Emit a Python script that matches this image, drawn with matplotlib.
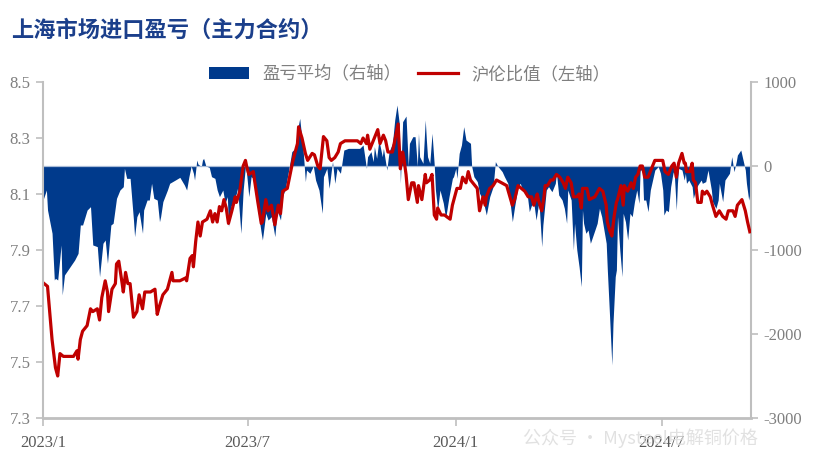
import numpy as np
import pandas as pd
import matplotlib.pyplot as plt
from matplotlib.patches import Patch
from matplotlib.lines import Line2D

# 沪伦比值（左轴）
ratio_dates = [
    '2023-01-02', '2023-01-05', '2023-01-09', '2023-01-12', '2023-01-14', '2023-01-16', '2023-01-19', '2023-01-28', '2023-01-31',
    '2023-02-01', '2023-02-03', '2023-02-05', '2023-02-09', '2023-02-12', '2023-02-14', '2023-02-18', '2023-02-20', '2023-02-22', '2023-02-25', '2023-02-27', '2023-02-28',
    '2023-03-03', '2023-03-06', '2023-03-07', '2023-03-09', '2023-03-12', '2023-03-13', '2023-03-15', '2023-03-17', '2023-03-19', '2023-03-22', '2023-03-25', '2023-03-27', '2023-03-30',
    '2023-04-01', '2023-04-06', '2023-04-10', '2023-04-12', '2023-04-14', '2023-04-17', '2023-04-21', '2023-04-25', '2023-04-26',
    '2023-05-02', '2023-05-07', '2023-05-08', '2023-05-11', '2023-05-13', '2023-05-14', '2023-05-16', '2023-05-18', '2023-05-20', '2023-05-22', '2023-05-26', '2023-05-29', '2023-05-31',
    '2023-06-02', '2023-06-04', '2023-06-06', '2023-06-08', '2023-06-10', '2023-06-12', '2023-06-14', '2023-06-17', '2023-06-20', '2023-06-21', '2023-06-24', '2023-06-27', '2023-06-29', '2023-06-30',
    '2023-07-02', '2023-07-06', '2023-07-07', '2023-07-10', '2023-07-13', '2023-07-14', '2023-07-17', '2023-07-19', '2023-07-22', '2023-07-25', '2023-07-28', '2023-07-30',
    '2023-08-01', '2023-08-05', '2023-08-07', '2023-08-10', '2023-08-14', '2023-08-15', '2023-08-18', '2023-08-21', '2023-08-23', '2023-08-27', '2023-08-29',
    '2023-09-01', '2023-09-03', '2023-09-06', '2023-09-09', '2023-09-11', '2023-09-13', '2023-09-16', '2023-09-19', '2023-09-21', '2023-09-25',
    '2023-10-06', '2023-10-09', '2023-10-11', '2023-10-14', '2023-10-15', '2023-10-17', '2023-10-20', '2023-10-22', '2023-10-24', '2023-10-26', '2023-10-29', '2023-10-31',
    '2023-11-02', '2023-11-06', '2023-11-10', '2023-11-11', '2023-11-13', '2023-11-15', '2023-11-16', '2023-11-18', '2023-11-20', '2023-11-23', '2023-11-25', '2023-11-28', '2023-11-29',
    '2023-12-02', '2023-12-05', '2023-12-06', '2023-12-09', '2023-12-11', '2023-12-13', '2023-12-15', '2023-12-16', '2023-12-19', '2023-12-22', '2023-12-27', '2023-12-29',
    '2024-01-02', '2024-01-05', '2024-01-07', '2024-01-10', '2024-01-12', '2024-01-14', '2024-01-16', '2024-01-20', '2024-01-22', '2024-01-25', '2024-01-27', '2024-01-28', '2024-01-31',
    '2024-02-03', '2024-02-06', '2024-02-15', '2024-02-20', '2024-02-22', '2024-02-25', '2024-02-28',
    '2024-03-02', '2024-03-05', '2024-03-08', '2024-03-10', '2024-03-13', '2024-03-14', '2024-03-17', '2024-03-19', '2024-03-20', '2024-03-22', '2024-03-25', '2024-03-27', '2024-03-30',
    '2024-04-02', '2024-04-05', '2024-04-07', '2024-04-09', '2024-04-12', '2024-04-14', '2024-04-17', '2024-04-19', '2024-04-21', '2024-04-22', '2024-04-26', '2024-04-28',
    '2024-05-03', '2024-05-07', '2024-05-10', '2024-05-13', '2024-05-14', '2024-05-16', '2024-05-18', '2024-05-20', '2024-05-22', '2024-05-23', '2024-05-26', '2024-05-28', '2024-05-29',
    '2024-06-01', '2024-06-04', '2024-06-06', '2024-06-08', '2024-06-10', '2024-06-12', '2024-06-14', '2024-06-16', '2024-06-19', '2024-06-22', '2024-06-25', '2024-06-29',
    '2024-07-02', '2024-07-04', '2024-07-07', '2024-07-10', '2024-07-12', '2024-07-14', '2024-07-16', '2024-07-19', '2024-07-21', '2024-07-22', '2024-07-23', '2024-07-26', '2024-07-28', '2024-07-29', '2024-07-31',
    '2024-08-02', '2024-08-05', '2024-08-06', '2024-08-08', '2024-08-10', '2024-08-13', '2024-08-15', '2024-08-18', '2024-08-21', '2024-08-24', '2024-08-27', '2024-08-29',
    '2024-09-02', '2024-09-04', '2024-09-06', '2024-09-10', '2024-09-13', '2024-09-15', '2024-09-17',
]
ratio_vals = [
    7.78, 7.77, 7.58, 7.48, 7.45, 7.53, 7.52, 7.52, 7.54,
    7.51, 7.58, 7.61, 7.63, 7.69, 7.68, 7.69, 7.65, 7.73, 7.79, 7.75, 7.68,
    7.76, 7.78, 7.85, 7.86, 7.78, 7.75, 7.82, 7.78, 7.78, 7.66, 7.68, 7.74, 7.69,
    7.75, 7.75, 7.76, 7.67, 7.70, 7.74, 7.76, 7.82, 7.79,
    7.79, 7.80, 7.79, 7.87, 7.88, 7.84, 7.93, 8.00, 7.95, 8.00, 8.01, 8.04, 8.00,
    8.03, 8.00, 8.055, 8.04, 8.08, 8.05, 7.995, 8.04, 8.09, 8.07, 8.11, 8.20, 8.22, 8.20,
    8.17, 8.18, 8.15, 8.07, 7.995, 8.00, 8.08, 8.04, 8.06, 7.99, 8.06, 8.03,
    8.11, 8.12, 8.16, 8.22, 8.28, 8.34, 8.30, 8.245, 8.22, 8.245, 8.24,
    8.20, 8.19, 8.305, 8.29, 8.23, 8.22, 8.23, 8.25, 8.28, 8.29,
    8.29, 8.28, 8.30, 8.28, 8.31, 8.26, 8.29, 8.31, 8.33, 8.28, 8.31, 8.29,
    8.25, 8.25, 8.33, 8.35, 8.19, 8.25, 8.23, 8.17, 8.08, 8.14, 8.14, 8.07, 8.13,
    8.08, 8.17, 8.14, 8.15, 8.17, 8.025, 8.01, 8.05, 8.025, 8.025, 8.01, 8.06,
    8.12, 8.12, 8.16, 8.14, 8.18, 8.15, 8.14, 8.12, 8.04, 8.09, 8.06, 8.09, 8.12,
    8.13, 8.15, 8.13, 8.06, 8.08, 8.13, 8.12,
    8.11, 8.09, 8.09, 8.06, 8.10, 8.08, 8.04, 8.09, 8.13, 8.13, 8.15, 8.15, 8.17,
    8.16, 8.14, 8.12, 8.16, 8.14, 8.09, 8.09, 8.10, 8.05, 8.12, 8.12, 8.08,
    8.09, 8.12, 8.11, 8.06, 8.00, 7.97, 7.95, 8.02, 8.07, 8.08, 8.13, 8.06, 8.13,
    8.11, 8.14, 8.12, 8.16, 8.17, 8.20, 8.20, 8.16, 8.16, 8.19, 8.22, 8.22,
    8.22, 8.18, 8.17, 8.20, 8.21, 8.16, 8.21, 8.245, 8.21, 8.21, 8.18, 8.18, 8.21, 8.15, 8.14,
    8.07, 8.07, 8.11, 8.10, 8.11, 8.09, 8.06, 8.02, 8.04, 8.02, 8.01, 8.04,
    8.04, 8.02, 8.06, 8.08, 8.04, 8.00, 7.965,
]

# 盈亏平均（右轴）
pnl_dates = [
    '2023-01-01', '2023-01-04', '2023-01-05', '2023-01-09', '2023-01-11', '2023-01-12', '2023-01-14', '2023-01-17', '2023-01-18', '2023-01-20', '2023-01-25', '2023-01-29',
    '2023-02-01', '2023-02-03', '2023-02-05', '2023-02-09', '2023-02-12', '2023-02-14', '2023-02-18', '2023-02-20', '2023-02-23', '2023-02-25', '2023-02-27',
    '2023-03-02', '2023-03-04', '2023-03-07', '2023-03-10', '2023-03-13', '2023-03-14', '2023-03-16', '2023-03-19', '2023-03-22', '2023-03-23', '2023-03-25', '2023-03-27', '2023-03-30', '2023-03-31',
    '2023-04-03', '2023-04-05', '2023-04-07', '2023-04-09', '2023-04-12', '2023-04-14', '2023-04-15', '2023-04-17', '2023-04-21', '2023-04-23', '2023-04-28',
    '2023-05-02', '2023-05-06', '2023-05-08', '2023-05-10', '2023-05-12', '2023-05-14', '2023-05-15', '2023-05-17', '2023-05-18', '2023-05-21', '2023-05-22', '2023-05-23', '2023-05-25', '2023-05-28', '2023-05-30',
    '2023-06-02', '2023-06-04', '2023-06-06', '2023-06-09', '2023-06-11', '2023-06-13', '2023-06-14', '2023-06-16', '2023-06-18', '2023-06-21', '2023-06-22', '2023-06-25', '2023-06-27', '2023-06-29', '2023-06-30',
    '2023-07-02', '2023-07-04', '2023-07-06', '2023-07-08', '2023-07-10', '2023-07-13', '2023-07-14', '2023-07-17', '2023-07-19', '2023-07-22', '2023-07-25', '2023-07-27', '2023-07-30',
    '2023-08-01', '2023-08-03', '2023-08-06', '2023-08-09', '2023-08-12', '2023-08-14', '2023-08-16', '2023-08-19', '2023-08-21', '2023-08-22', '2023-08-25', '2023-08-28', '2023-08-30',
    '2023-09-02', '2023-09-05', '2023-09-06', '2023-09-09', '2023-09-11', '2023-09-13', '2023-09-14', '2023-09-16', '2023-09-18', '2023-09-21', '2023-09-24', '2023-09-28',
    '2023-10-04', '2023-10-08', '2023-10-11', '2023-10-14', '2023-10-15', '2023-10-18', '2023-10-20', '2023-10-21', '2023-10-23', '2023-10-25', '2023-10-28', '2023-10-29',
    '2023-11-01', '2023-11-03', '2023-11-06', '2023-11-08', '2023-11-10', '2023-11-12', '2023-11-13', '2023-11-15', '2023-11-18', '2023-11-20', '2023-11-21', '2023-11-24', '2023-11-26', '2023-11-28', '2023-11-29', '2023-11-30',
    '2023-12-03', '2023-12-05', '2023-12-06', '2023-12-07', '2023-12-09', '2023-12-11', '2023-12-13', '2023-12-14', '2023-12-16', '2023-12-18', '2023-12-21', '2023-12-23', '2023-12-26', '2023-12-29', '2023-12-30',
    '2024-01-01', '2024-01-02', '2024-01-04', '2024-01-06', '2024-01-08', '2024-01-10', '2024-01-12', '2024-01-14', '2024-01-15', '2024-01-17', '2024-01-20', '2024-01-22', '2024-01-25', '2024-01-28', '2024-01-31',
    '2024-02-03', '2024-02-05', '2024-02-07', '2024-02-11', '2024-02-13', '2024-02-16', '2024-02-20', '2024-02-22', '2024-02-25', '2024-02-27', '2024-02-29',
    '2024-03-04', '2024-03-06', '2024-03-08', '2024-03-10', '2024-03-12', '2024-03-14', '2024-03-15', '2024-03-17', '2024-03-18', '2024-03-21', '2024-03-23', '2024-03-26', '2024-03-29', '2024-03-30',
    '2024-04-01', '2024-04-04', '2024-04-06', '2024-04-08', '2024-04-09', '2024-04-12', '2024-04-14', '2024-04-15', '2024-04-17', '2024-04-19', '2024-04-21', '2024-04-22', '2024-04-23', '2024-04-25', '2024-04-27', '2024-04-29',
    '2024-05-01', '2024-05-03', '2024-05-05', '2024-05-07', '2024-05-09', '2024-05-11', '2024-05-13', '2024-05-14', '2024-05-16', '2024-05-18', '2024-05-19', '2024-05-21', '2024-05-22', '2024-05-23', '2024-05-25', '2024-05-27', '2024-05-28', '2024-05-30',
    '2024-06-01', '2024-06-03', '2024-06-05', '2024-06-07', '2024-06-09', '2024-06-11', '2024-06-12', '2024-06-14', '2024-06-15', '2024-06-17', '2024-06-19', '2024-06-21', '2024-06-23', '2024-06-25', '2024-06-28', '2024-06-30',
    '2024-07-02', '2024-07-03', '2024-07-05', '2024-07-07', '2024-07-09', '2024-07-11', '2024-07-12', '2024-07-14', '2024-07-15', '2024-07-16', '2024-07-19', '2024-07-21', '2024-07-22', '2024-07-23', '2024-07-25', '2024-07-28', '2024-07-29', '2024-07-31',
    '2024-08-02', '2024-08-05', '2024-08-06', '2024-08-09', '2024-08-11', '2024-08-14', '2024-08-15', '2024-08-18', '2024-08-20', '2024-08-21', '2024-08-24', '2024-08-26', '2024-08-28', '2024-08-30',
    '2024-09-01', '2024-09-03', '2024-09-05', '2024-09-06', '2024-09-09', '2024-09-11', '2024-09-13', '2024-09-14', '2024-09-16', '2024-09-17',
]
pnl_vals = [
    -405, -286, -524, -800, -1357, -1337, -1357, -940, -1535, -1297, -1198, -1119,
    -1040, -702, -702, -524, -484, -940, -960, -1317, -920, -881, -1159,
    -702, -682, -385, -286, -246, -28, -147, -147, -643, -841, -603, -544, -801, -524,
    -405, -405, -206, -385, -405, -663, -603, -424, -286, -206, -167,
    -135, -226, -286, -127, 0, -87, -167, 71, 24, -8, 71, 91, 0, -16, -127,
    -147, -286, -365, -286, -444, -365, -722, -484, -444, -325, -266, -801, -286, 0, -87,
    -365, -127, -147, -286, -524, -801, -881, -563, -643, -603, -841, -524, -643,
    -350, -286, -67, 171, 210, 429, 567, 190, -186, -48, -87, 0, -167,
    -286, -563, -127, -28, -266, -48, 52, -206, -28, -87, 190, 210,
    210, 210, 250, -28, 111, 171, 52, 230, 91, 310, 111, 210,
    -48, 171, 270, 548, 726, 508, -206, 528, 595, 0, 270, 349, 349, 0, 389, 111,
    32, 548, 310, 111, 32, 389, 0, -286, -524, -286, -444, -623, -365, -147, -127,
    -28, -147, 151, 250, 468, 310, 290, 270, 0, -127, -186, -325, -405, -583, -365,
    -246, 52, 0, -67, -127, -206, -663, -484, -246, -206, -286,
    -325, -544, -464, -444, -643, -464, -524, -960, -702, -286, -246, -306, -206, -87,
    -345, -405, -504, -682, -286, -405, -1000, -682, -1000, -1198, -1436, -524, -682, -801, -762, -920,
    -841, -762, -682, -504, -603, -762, -920, -1238, -1794, -2369, -1873, -1317, -1238, -603, -1000, -1317, -563, -663,
    -881, -563, -603, -424, -286, -444, -48, -48, -405, -405, -544, -286, -167, -48, -8, -87,
    -286, -583, -524, -544, -246, -87, -48, -524, -206, -28, -48, -167, -87, -206, -167, -246, -385, -286,
    -226, -167, -206, -186, -48, -286, -424, -504, -405, -206, -424, -167, -127, -87,
    111, -67, 52, 131, 190, 71, -48, -206, -405, -330,
]

tick_dates = ['2023-01-01', '2023-07-01', '2024-01-01', '2024-07-01']
tick_labels = ['2023/1', '2023/7', '2024/1', '2024/7']
left_ticks = [7.3, 7.5, 7.7, 7.9, 8.1, 8.3, 8.5]
right_ticks = [-3000, -2000, -1000, 0, 1000]

blue = '#003A8C'
red = '#C00000'
grey_line = '#BFBFBF'
cjk = ['Noto Sans CJK SC', 'DejaVu Sans']

plt.rcParams['font.family'] = ['Liberation Serif', 'Noto Sans CJK SC']

ratio_dt = pd.to_datetime(ratio_dates)
pnl_dt = pd.to_datetime(pnl_dates)

fig = plt.figure(figsize=(8.16, 4.61), dpi=100)
ax = fig.add_axes([0.0527, 0.0933, 0.8676, 0.7288])
ax2 = ax.twinx()

ax2.fill_between(pnl_dt, pnl_vals, 0, color=blue, linewidth=0)
ax2.axhline(0, color='#A9BCD8', lw=0.9)
ax.plot(ratio_dt, ratio_vals, color=red, lw=2.3, solid_joinstyle='round')

# red line above the filled area
ax.set_zorder(ax2.get_zorder() + 1)
ax.patch.set_visible(False)

ax.set_xlim(pd.Timestamp('2023-01-01'), pd.Timestamp('2024-09-18'))
ax.set_ylim(7.3, 8.5)
ax2.set_ylim(-3000, 1000)

ax.set_xticks(pd.to_datetime(tick_dates))
ax.set_xticklabels(tick_labels)
ax.set_yticks(left_ticks)
ax.set_yticklabels(['%.1f' % v for v in left_ticks])
ax2.set_yticks(right_ticks)
ax2.set_yticklabels([str(v) for v in right_ticks])

for a in (ax, ax2):
    a.spines['top'].set_visible(False)
ax.spines['right'].set_visible(False)
ax2.spines['left'].set_visible(False)
ax2.spines['bottom'].set_visible(False)
ax.spines['left'].set_color(grey_line)
ax.spines['left'].set_linewidth(1.5)
ax.spines['bottom'].set_color(grey_line)
ax.spines['bottom'].set_linewidth(2)
ax2.spines['right'].set_color(grey_line)
ax2.spines['right'].set_linewidth(1.5)

ax.tick_params(axis='y', color=grey_line, labelcolor='#7F7F7F', length=5, width=1.2, labelsize=12, pad=4)
ax.tick_params(axis='x', color=grey_line, labelcolor='#595959', length=6, width=1.2, labelsize=12, pad=6)
ax2.tick_params(axis='y', color=grey_line, labelcolor='#7F7F7F', length=5, width=1.2, labelsize=12, pad=4)

fig.text(0.014, 0.935, '上海市场进口盈亏（主力合约）', fontsize=16, fontweight='bold',
         color='#1B3F8B', family=cjk, va='center', ha='left')

handles = [Patch(facecolor=blue, edgecolor='none'), Line2D([0], [0], color=red, lw=2.3)]
labels = ['盈亏平均（右轴）', '沪伦比值（左轴）']
fig.legend(handles, labels, loc='center', bbox_to_anchor=(0.502, 0.84), ncol=2, frameon=False,
           prop={'family': cjk, 'size': 12.5}, labelcolor='#7F7F7F', handlelength=2.3,
           handleheight=0.7, columnspacing=1.0, handletextpad=0.75)

fig.text(0.785, 0.05, '公众号 · Mysteel电解铜价格', fontsize=13, color='#DADADA',
         family=cjk, ha='center', va='center', alpha=0.8)

fig.savefig('out.png', dpi=100)
